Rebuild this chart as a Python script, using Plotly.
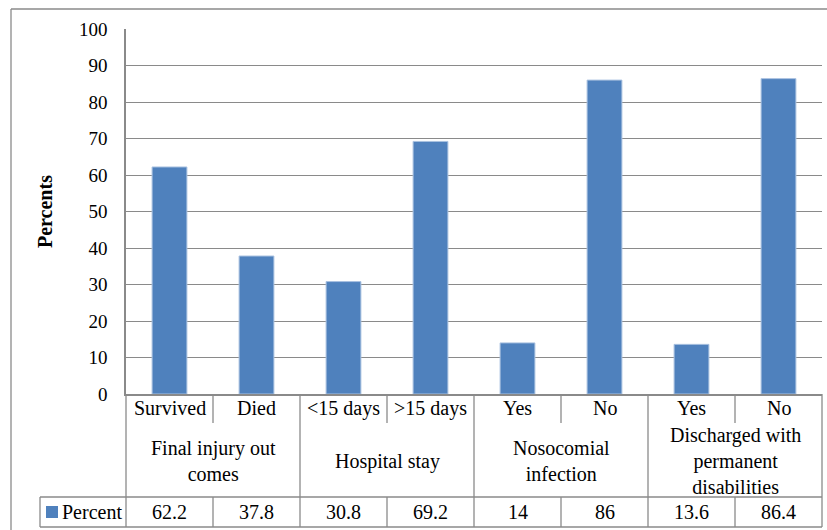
import plotly.graph_objects as go

# ---- data ----
sub_labels = ["Survived", "Died", "<15 days", ">15 days", "Yes", "No", "Yes", "No"]
group_labels = ["Final injury out<br>comes", "Hospital stay", "Nosocomial<br>infection",
                "Discharged with<br>permanent<br>disabilities"]
group_sizes = [2, 2, 2, 2]
percent = [62.2, 37.8, 30.8, 69.2, 14, 86, 13.6, 86.4]
series_name = "Percent"
y_title = "Percents"

W, H = 827, 530
L, R, T, B = 126, 5, 29, 136
PW, PH = W - L - R, H - T - B
FONT = "Liberation Serif"
GRAY = "#8a8a8a"
BAR = "#4F81BD"

def px(x):  # pixel x -> paper
    return (x - L) / PW

def py(y):  # pixel y -> paper
    return (H - B - y) / PH

x = list(range(len(percent)))

fig = go.Figure(go.Bar(
    x=x, y=percent, width=0.4, name=series_name,
    marker=dict(color=BAR, line=dict(color="#a9c1e0", width=1)),
))

shapes = []
annotations = []

def line(x0, y0, x1, y1, xref="paper"):
    shapes.append(dict(type="line", xref=xref, yref="paper", x0=x0, y0=y0, x1=x1, y1=y1,
                       line=dict(color=GRAY, width=1.3)))

# outer chart border
line(px(11), py(9), px(W + 2), py(9))
line(px(11), py(9), px(11), py(H + 2))

row1_bot = 423
data_top = 497
data_bot = 527

# left edge of table under axis
line(0, py(394), 0, py(data_bot))
# right edge
line(1, py(394), 1, py(data_bot))
# data row horizontal lines
line(px(40), py(data_top), 1, py(data_top))
line(px(40), py(data_bot), 1, py(data_bot))
line(px(40), py(data_top), px(40), py(data_bot))

# vertical separators
n = len(percent)
boundaries = set()
acc = 0
for g in group_sizes:
    acc += g
    boundaries.add(acc)
for i in range(1, n):
    xb = i - 0.5
    if i in boundaries:
        shapes.append(dict(type="line", xref="x", yref="paper", x0=xb, x1=xb,
                           y0=py(394), y1=py(data_bot), line=dict(color=GRAY, width=1.3)))
    else:
        shapes.append(dict(type="line", xref="x", yref="paper", x0=xb, x1=xb,
                           y0=py(394), y1=py(row1_bot), line=dict(color=GRAY, width=1.3)))
        shapes.append(dict(type="line", xref="x", yref="paper", x0=xb, x1=xb,
                           y0=py(data_top), y1=py(data_bot), line=dict(color=GRAY, width=1.3)))

font = dict(family=FONT, size=20, color="black")

for i, lab in enumerate(sub_labels):
    annotations.append(dict(xref="x", yref="paper", x=i, y=py(408), text=lab, showarrow=False,
                            font=font, xanchor="center", yanchor="middle"))
    annotations.append(dict(xref="x", yref="paper", x=i, y=py(512), text=f"{percent[i]:g}",
                            showarrow=False, font=font, xanchor="center", yanchor="middle"))

start = 0
for g, lab in zip(group_sizes, group_labels):
    center = start + (g - 1) / 2
    annotations.append(dict(xref="x", yref="paper", x=center, y=py(461), text=lab, showarrow=False,
                            font=font, xanchor="center", yanchor="middle"))
    start += g

# legend key in table
shapes.append(dict(type="rect", xref="paper", yref="paper", x0=px(46), x1=px(58),
                   y0=py(506), y1=py(518), fillcolor=BAR, line=dict(width=0)))
annotations.append(dict(xref="paper", yref="paper", x=px(60), y=py(512), text=series_name,
                        showarrow=False, font=font, xanchor="left", yanchor="middle"))

# y title
annotations.append(dict(xref="paper", yref="paper", x=px(45), y=py(212), text=f"<b>{y_title}</b>",
                        showarrow=False, font=dict(family=FONT, size=20, color="black"),
                        textangle=-90, xanchor="center", yanchor="middle"))

fig.update_layout(
    width=W, height=H, margin=dict(l=L, r=R, t=T, b=B),
    plot_bgcolor="white", paper_bgcolor="white",
    showlegend=False, shapes=shapes, annotations=annotations,
    xaxis=dict(range=[-0.5, n - 0.5], showticklabels=False, showgrid=False, zeroline=False,
               showline=True, linecolor=GRAY, linewidth=1.5, ticks=""),
    yaxis=dict(range=[0, 100], dtick=10, showgrid=True, gridcolor=GRAY, gridwidth=1.3,
               zeroline=False, showline=True, linecolor=GRAY, linewidth=1.5,
               tickfont=dict(family=FONT, size=19, color="black"), ticks="",
               ticklabelstandoff=13),
)

fig.write_html("out.html", config={"displayModeBar": False},
               post_script="document.body.style.margin='0';document.body.style.overflow='hidden';")
